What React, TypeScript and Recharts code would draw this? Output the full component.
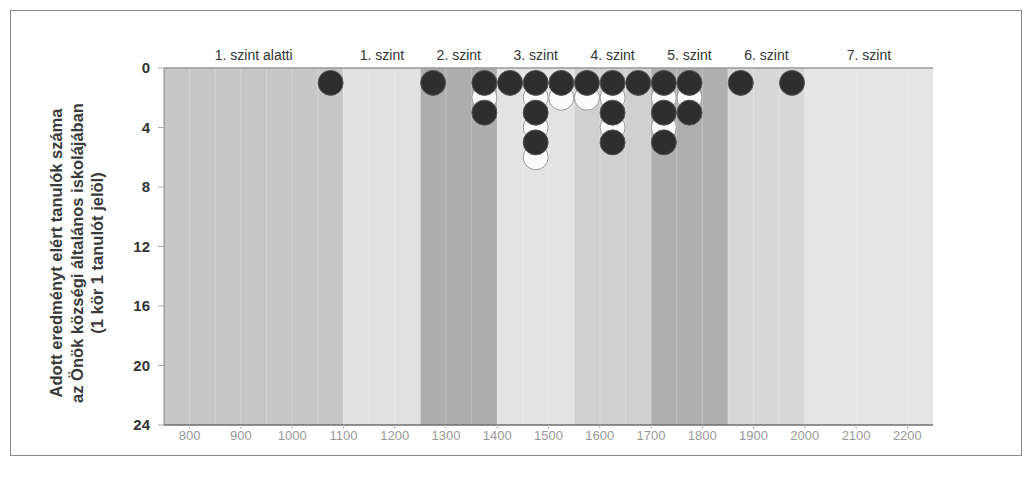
import React from 'react';
import { ScatterChart, Scatter, XAxis, YAxis, ReferenceArea, ReferenceLine, Label } from 'recharts';

// score bins (column centres) and which rows hold a dark / white circle
const scoreBins = [1075, 1275, 1375, 1425, 1475, 1525, 1575, 1625, 1675, 1725, 1775, 1875, 1975];
const darkRows = [[1], [1], [1, 3], [1], [1, 3, 5], [1], [1], [1, 3, 5], [1], [1, 3, 5], [1, 3], [1], [1]];
const whiteRows = [[], [], [2], [], [2, 4, 6], [2], [2], [2, 4], [], [2, 4], [2], [], []];

const bandEdges = [750, 1100, 1250, 1400, 1550, 1700, 1850, 2000, 2250];
const bandLabels = ['1. szint alatti', '1. szint', '2. szint', '3. szint', '4. szint', '5. szint', '6. szint', '7. szint'];
const bandFills = ['#c7c7c7', '#e1e1e1', '#adadad', '#e3e3e3', '#d0d0d0', '#afafaf', '#d7d7d7', '#e5e5e5'];

const bottomTicks = [800, 900, 1000, 1100, 1200, 1300, 1400, 1500, 1600, 1700, 1800, 1900, 2000, 2100, 2200];
const topTicks = [750, 800, 850, 900, 950, 1000, 1050, 1100, 1150, 1200, 1250, 1300, 1350, 1400, 1450, 1500,
  1550, 1600, 1650, 1700, 1750, 1800, 1850, 1900, 1950, 2000, 2050, 2100, 2150, 2200, 2250];
const yTicks = [0, 4, 8, 12, 16, 20, 24];

const yTitle = ['Adott eredményt elért tanulók száma', 'az Önök községi általános iskolájában', '(1 kör 1 tanulót jelöl)'];

const toPoints = (rows: number[][]) =>
  rows.flatMap((r, i) => r.map((count) => ({ score: scoreBins[i], count })));

const darkPoints = toPoints(darkRows);
const whitePoints = toPoints(whiteRows);

const font = '"Liberation Sans", Arial, sans-serif';

const Dot = (fill: string, stroke: string) => (props: any) => (
  <circle cx={props.cx} cy={props.cy} r={12.5} fill={fill} stroke={stroke} strokeWidth={1} />
);

const YTitle = () => {
  const xs = [56, 77, 97];
  return (
    <g>
      {yTitle.map((t, i) => (
        <text
          key={i}
          x={xs[i]}
          y={253}
          transform={`rotate(-90, ${xs[i]}, 253)`}
          textAnchor="middle"
          dominantBaseline="central"
          fontSize={16.5}
          fontWeight="bold"
          fill="#3a3a3a"
          fontFamily={font}
        >
          {t}
        </text>
      ))}
    </g>
  );
};

export default function App() {
  return (
    <div style={{ position: 'absolute', left: 0, top: 0, width: 1030, height: 486, background: '#fff', fontFamily: font }}>
      <div style={{ position: 'absolute', left: 10, top: 10, width: 1010, height: 444, border: '1.5px solid #8a8a8a' }} />
      <div style={{ position: 'absolute', left: 0, top: 0 }}>
        <ScatterChart width={1030} height={486} margin={{ top: 60, right: 97, bottom: 31, left: 110 }}>
          <XAxis
            dataKey="score"
            type="number"
            domain={[750, 2250]}
            ticks={bottomTicks}
            interval={0}
            height={30}
            tick={{ fontSize: 13, fill: '#999', fontFamily: font }}
            tickLine={{ stroke: '#bbb' }}
            tickSize={4}
            axisLine={{ stroke: '#6e6e6e', strokeWidth: 1.5 }}
          />
          <XAxis
            xAxisId="top"
            orientation="top"
            type="number"
            domain={[750, 2250]}
            ticks={topTicks}
            interval={0}
            height={8}
            tickFormatter={() => ''}
            tickSize={4}
            tickLine={{ stroke: '#999' }}
            axisLine={{ stroke: '#999', strokeWidth: 1.5 }}
          />
          <YAxis
            dataKey="count"
            type="number"
            reversed
            domain={[0, 24]}
            ticks={yTicks}
            interval={0}
            width={54}
            tickSize={6}
            tickMargin={8}
            tickLine={{ stroke: '#aaa' }}
            axisLine={{ stroke: '#888' }}
            tick={{ fontSize: 15, fontWeight: 'bold', fill: '#333', fontFamily: font }}
          >
            <Label content={() => <YTitle />} />
          </YAxis>
          {bandLabels.map((name, i) => (
            <ReferenceArea
              key={name}
              x1={bandEdges[i]}
              x2={bandEdges[i + 1]}
              y1={0}
              y2={24}
              fill={bandFills[i]}
              fillOpacity={1}
              stroke="none"
              label={{ value: name, position: 'top', offset: 8, fontSize: 14, fill: '#333', fontFamily: font }}
            />
          ))}
          {topTicks.slice(1, -1).map((t) => (
            <ReferenceLine key={t} x={t} stroke="#ffffff" strokeOpacity={0.25} />
          ))}
          <Scatter data={whitePoints} isAnimationActive={false} shape={Dot('#fbfbfb', '#9a9a9a')} />
          <Scatter data={darkPoints} isAnimationActive={false} shape={Dot('#2e2e2e', '#555')} />
        </ScatterChart>
      </div>
    </div>
  );
}
